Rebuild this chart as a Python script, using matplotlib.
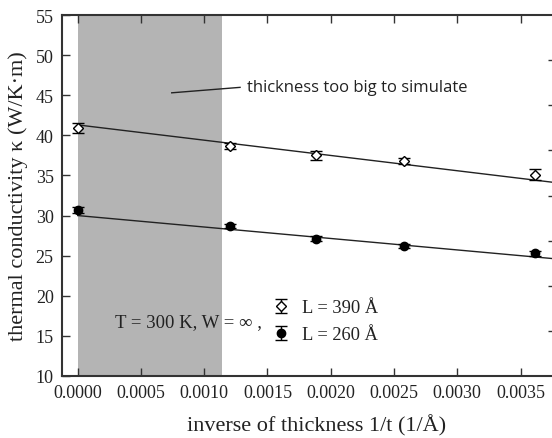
import matplotlib
matplotlib.use("Agg")
import matplotlib.pyplot as plt
from matplotlib.container import ErrorbarContainer
from matplotlib.legend_handler import HandlerErrorbar
from matplotlib.ticker import FormatStrFormatter, MultipleLocator

# data
inv_t = [0.0, 0.001204, 0.001884, 0.002582, 0.003617]
kappa_390 = [40.9, 38.7, 37.5, 36.8, 35.1]
err_390 = [0.6, 0.4, 0.6, 0.4, 0.7]
kappa_260 = [30.7, 28.7, 27.1, 26.2, 25.3]
err_260 = [0.4, 0.3, 0.3, 0.3, 0.3]

# linear fits (end points)
fit_x = [0.0, 0.00378]
fit_390 = [41.3, 34.1]
fit_260 = [30.0, 24.6]

shade_end = 0.001143
right_ticks = [15.625, 21.25, 26.875, 32.5, 38.125, 43.75, 49.375]

serif = ['Liberation Serif', 'DejaVu Serif']
txt = '#222222'
spine = '#333333'

fig = plt.figure(figsize=(5.52, 4.39), dpi=100)
ax = fig.add_axes([62 / 552, 62 / 439, 494 / 552, 361 / 439])

ax.axvspan(0, shade_end, color='#b4b4b4', lw=0, zorder=0)

ax.plot(fit_x, fit_390, color='#222222', lw=1.0, zorder=2)
ax.plot(fit_x, fit_260, color='#222222', lw=1.0, zorder=2)

h390 = ax.errorbar(inv_t, kappa_390, yerr=err_390, fmt='D', ms=5.5,
                   mfc='white', mec='black', mew=1.0, ecolor='black',
                   elinewidth=1.0, capsize=4.3, capthick=1.0, zorder=3,
                   label='L = 390 Å')
h260 = ax.errorbar(inv_t, kappa_260, yerr=err_260, fmt='o', ms=6,
                   mfc='black', mec='black', ecolor='black',
                   elinewidth=1.0, capsize=4.3, capthick=1.0, zorder=3,
                   label='L = 260 Å')

ax.set_xlim(-0.000124, 0.00378)
ax.set_ylim(10, 55)
ax.xaxis.set_major_locator(MultipleLocator(0.0005))
ax.xaxis.set_major_formatter(FormatStrFormatter('%.4f'))
ax.yaxis.set_major_locator(MultipleLocator(5))

ax.tick_params(direction='in', length=6, width=1.0, color=spine,
               labelsize=13, labelcolor=txt, top=True, pad=6)
for lab in ax.get_xticklabels() + ax.get_yticklabels():
    lab.set_family(serif)

for side in ['left', 'bottom', 'top']:
    ax.spines[side].set_linewidth(1.5)
    ax.spines[side].set_color(spine)
ax.spines['right'].set_visible(False)

ax2 = ax.twinx()
ax2.set_ylim(10, 55)
ax2.set_yticks(right_ticks)
ax2.tick_params(direction='in', length=6, width=1.0, color=spine,
                labelright=False)
for side in ax2.spines:
    ax2.spines[side].set_visible(False)

ax.set_xlabel('inverse of thickness 1/t (1/Å)', family=serif, fontsize=16,
              color=txt)
ax.xaxis.set_label_coords(0.516, -0.105)
ax.set_ylabel('thermal conductivity κ (W/K·m)', family=serif, fontsize=16,
              color=txt)
ax.yaxis.set_label_coords(-0.069, 0.5)

# annotation for the shaded region
ax.plot([0.000743, 0.001283], [45.3, 45.98], color='#222222', lw=1.0)
ax.text(0.001336, 46.0, 'thickness too big to simulate',
        family=['Open Sans', 'DejaVu Sans'], fontsize=12, color=txt,
        va='center', ha='left')

ax.text(0.000295, 16.72, 'T = 300 K, W = \u221e ,', family=serif,
        fontsize=13.5, color=txt, va='center', ha='left')

leg = ax.legend(handles=[h390, h260], loc='center left',
                bbox_to_anchor=(0.424, 0.152), frameon=False,
                prop={'family': serif, 'size': 13.3}, handlelength=1.0,
                handletextpad=0.65, labelspacing=0.55, borderpad=0,
                borderaxespad=0,
                handler_map={ErrorbarContainer: HandlerErrorbar(xerr_size=0.3,
                                                                 yerr_size=0.38)})
for t in leg.get_texts():
    t.set_color(txt)

fig.savefig('out.png', dpi=100)
